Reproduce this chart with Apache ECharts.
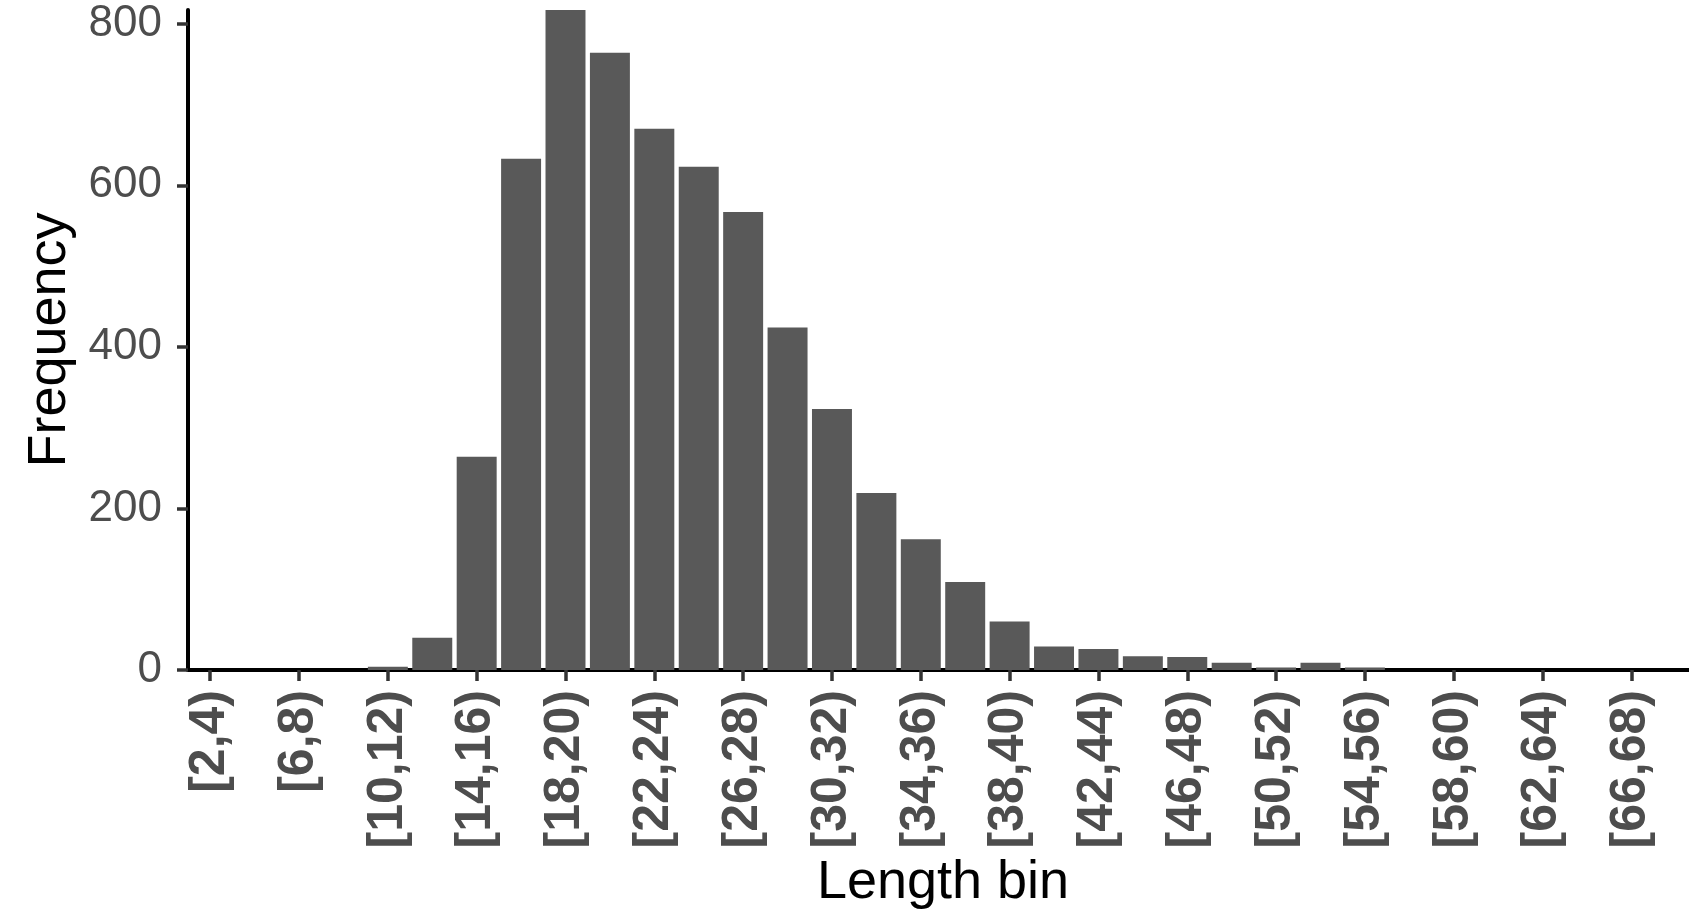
<!DOCTYPE html>
<html>
<head>
<meta charset="utf-8">
<script src="https://cdn.jsdelivr.net/npm/echarts@6/dist/echarts.min.js"></script>
<style>
html,body{margin:0;padding:0;background:#fff;}
#chart{width:1689px;height:910px;}
</style>
</head>
<body>
<div id="chart"></div>
<script>
const categories = ["[2,4)","[4,6)","[6,8)","[8,10)","[10,12)","[12,14)","[14,16)","[16,18)","[18,20)","[20,22)","[22,24)","[24,26)","[26,28)","[28,30)","[30,32)","[32,34)","[34,36)","[36,38)","[38,40)","[40,42)","[42,44)","[44,46)","[46,48)","[48,50)","[50,52)","[52,54)","[54,56)","[56,58)","[58,60)","[60,62)","[62,64)","[64,66)","[66,68)","[68,70)"];
const frequency = [0,0,0,0,4,40,264,633,817,764,670,623,567,424,323,219,162,109,60,29,26,17,16,9,3,9,3,0,0,0,0,0,0,0];
const yTicks = [0,200,400,600,800];
const xTitle = "Length bin";
const yTitle = "Frequency";

const chart = echarts.init(document.getElementById('chart'), null, {renderer:'canvas'});
chart.setOption({
  animation:false,
  backgroundColor:'#ffffff',
  grid:{left:188, right:-9, top:10, bottom:240, containLabel:false, outerBoundsMode:'none'},
  xAxis:{
    type:'category',
    data:categories,
    name:xTitle,
    nameLocation:'middle',
    nameGap:181,
    nameTextStyle:{fontFamily:'Liberation Sans', fontSize:54, color:'#000000'},
    axisLine:{show:true, lineStyle:{color:'#000000', width:4}},
    axisTick:{show:true, interval:1, alignWithLabel:true, length:11, lineStyle:{color:'#333333', width:3.5}},
    axisLabel:{interval:1, rotate:90, margin:20, fontFamily:'Liberation Sans', fontWeight:'bold', fontSize:50, color:'#4D4D4D'},
    splitLine:{show:false}
  },
  yAxis:{
    type:'value',
    min:yTicks[0],
    max:'dataMax',
    interval:200,
    name:yTitle,
    nameLocation:'middle',
    nameGap:111,
    nameTextStyle:{fontFamily:'Liberation Sans', fontSize:54, color:'#000000'},
    axisLine:{show:true, lineStyle:{color:'#000000', width:4}},
    axisTick:{show:true, length:11, lineStyle:{color:'#333333', width:3.5}},
    axisLabel:{margin:26, fontFamily:'Liberation Sans', fontSize:44, color:'#4D4D4D'},
    splitLine:{show:false}
  },
  series:[{
    type:'bar',
    data:frequency,
    barCategoryGap:'10%',
    itemStyle:{color:'#595959'}
  }]
});
</script>
</body>
</html>
